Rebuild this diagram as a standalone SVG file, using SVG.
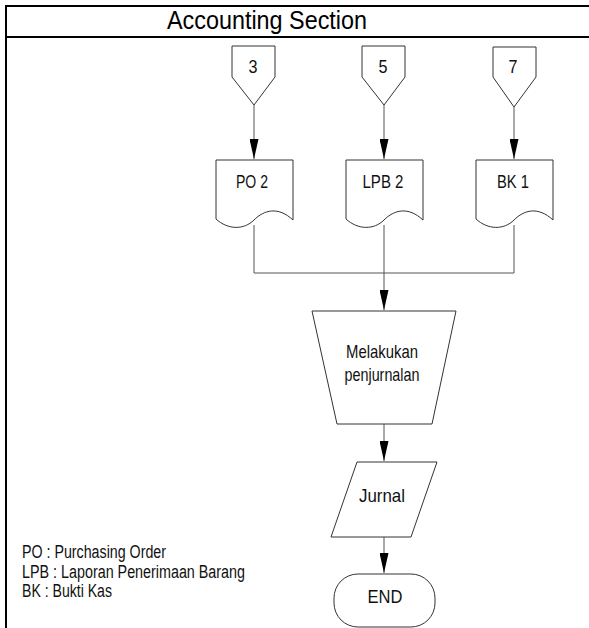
<svg xmlns="http://www.w3.org/2000/svg" width="589" height="628" viewBox="0 0 589 628">
<style>
.frame{stroke:#000;stroke-width:2;fill:none}
.shape{fill:#fff;stroke:#333;stroke-width:1}
.line{fill:none;stroke:#555;stroke-width:1}
.lbl{font-family:"Liberation Sans",Arial,sans-serif;font-size:19px;fill:#111;text-anchor:middle}
.leg{font-family:"Liberation Sans",Arial,sans-serif;font-size:18px;fill:#111}
.title{font-family:"Liberation Sans",Arial,sans-serif;font-size:26px;fill:#000;text-anchor:middle}
</style>
<defs>
<marker id="arr" markerWidth="20" markerHeight="9" refX="20" refY="4.5" orient="auto" markerUnits="userSpaceOnUse" viewBox="0 0 20 9">
<path d="M0,0 L20,4.5 L0,9 Z" fill="#000"/>
</marker>
</defs>
<rect width="589" height="628" fill="#fff"/>
<g id="frame">
<path class="frame" d="M6,628 V6 H589 M6,37 H589"/>
<text class="title" x="267" y="29" textLength="200" lengthAdjust="spacingAndGlyphs">Accounting Section</text>
</g>
<g id="connectors">
<path class="line" d="M254,105 V159" marker-end="url(#arr)"/>
<path class="line" d="M384,105 V159" marker-end="url(#arr)"/>
<path class="line" d="M514,107 V159" marker-end="url(#arr)"/>
<path class="line" d="M254,225 V273 H514 V225"/>
<path class="line" d="M384,225 V310" marker-end="url(#arr)"/>
<path class="line" d="M384,424 V461" marker-end="url(#arr)"/>
<path class="line" d="M384,537 V573" marker-end="url(#arr)"/>
</g>
<g id="opc3">
<path class="shape" d="M232,46 H275 V77 L254,105 L232,77 Z"/>
<text class="lbl" x="253" y="73" textLength="9" lengthAdjust="spacingAndGlyphs">3</text>
</g>
<g id="opc5">
<path class="shape" d="M362,46 H405 V77 L384,105 L362,77 Z"/>
<text class="lbl" x="383" y="73" textLength="9" lengthAdjust="spacingAndGlyphs">5</text>
</g>
<g id="opc7">
<path class="shape" d="M493,47 H536 V77 L514,107 L493,77 Z"/>
<text class="lbl" x="513" y="73" textLength="9" lengthAdjust="spacingAndGlyphs">7</text>
</g>
<g id="doc-po2">
<path class="shape" d="M216,160 H293 V220 C278,206 264,210 254,220 C244,230 228,230 216,219 Z"/>
<text class="lbl" x="252" y="188" textLength="32" lengthAdjust="spacingAndGlyphs">PO 2</text>
</g>
<g id="doc-lpb2">
<path class="shape" d="M346,160 H423 V220 C408,206 394,210 384,220 C374,230 358,230 346,219 Z"/>
<text class="lbl" x="383" y="188" textLength="41" lengthAdjust="spacingAndGlyphs">LPB 2</text>
</g>
<g id="doc-bk1">
<path class="shape" d="M476,160 H553 V220 C538,206 524,210 514,220 C504,230 488,230 476,219 Z"/>
<text class="lbl" x="513" y="188" textLength="32" lengthAdjust="spacingAndGlyphs">BK 1</text>
</g>
<g id="manual-op">
<path class="shape" d="M312,311 H456 L432,424 H337 Z"/>
<text class="lbl" x="382" y="358" textLength="72" lengthAdjust="spacingAndGlyphs">Melakukan</text>
<text class="lbl" x="382" y="381" textLength="75" lengthAdjust="spacingAndGlyphs">penjurnalan</text>
</g>
<g id="jurnal">
<path class="shape" d="M357,462 H437 L411,537 H331 Z"/>
<text class="lbl" x="382" y="502" textLength="46" lengthAdjust="spacingAndGlyphs">Jurnal</text>
</g>
<g id="end">
<rect class="shape" x="334" y="574" width="101" height="53" rx="24" ry="24"/>
<text class="lbl" x="385" y="603" textLength="35" lengthAdjust="spacingAndGlyphs">END</text>
</g>
<g id="legend">
<text class="leg" x="22" y="558" textLength="144" lengthAdjust="spacingAndGlyphs">PO : Purchasing Order</text>
<text class="leg" x="22" y="578" textLength="223" lengthAdjust="spacingAndGlyphs">LPB : Laporan Penerimaan Barang</text>
<text class="leg" x="22" y="597" textLength="90" lengthAdjust="spacingAndGlyphs">BK : Bukti Kas</text>
</g>
</svg>
